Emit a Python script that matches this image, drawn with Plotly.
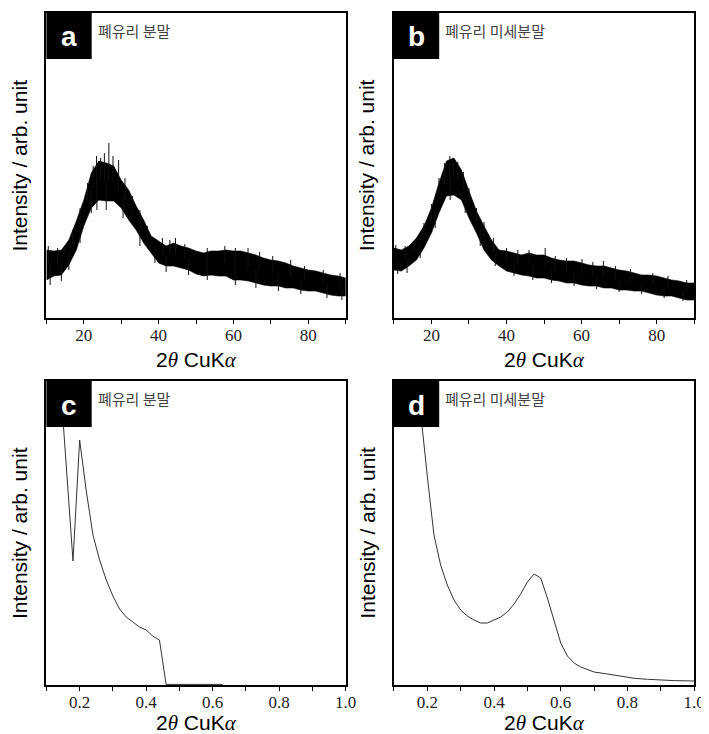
import numpy as np
import plotly.graph_objects as go

# ---------------- data (arbitrary units) ----------------
xrd_deg = [10, 12, 14, 16, 18, 20, 22, 24, 26, 28, 30, 32, 34, 36, 38, 40, 42, 44, 46, 48,
           50, 52, 54, 56, 58, 60, 62, 64, 66, 68, 70, 72, 74, 76, 78, 80, 82, 84, 86, 88, 90]

a_upper = [68, 67, 68, 78, 97, 118, 145, 157, 155, 152, 138, 128, 112, 98, 82, 77, 72, 75, 72, 70,
           67, 65, 67, 67, 68, 67, 67, 65, 63, 60, 58, 57, 55, 52, 50, 48, 47, 45, 43, 42, 40]
a_lower = [38, 42, 43, 53, 68, 92, 110, 118, 117, 117, 110, 98, 88, 75, 65, 55, 52, 52, 50, 48,
           44, 42, 43, 42, 42, 38, 38, 37, 35, 33, 32, 32, 30, 30, 28, 27, 27, 25, 23, 22, 22]
a_up_spike_x = [10.5, 13, 15, 17, 19, 21, 22.5, 23.4, 24.5, 25.5, 26.7, 27.8, 29.3, 31, 33, 35,
                37, 41, 43, 44.5, 47, 53, 57.7, 60.5, 63.9, 67, 70.5, 75.3, 79, 84, 88.5]
a_up_spike_y = [72, 70, 70, 88, 110, 135, 152, 162, 160, 165, 175, 162, 158, 140, 122, 108,
                92, 80, 78, 80, 74, 70, 72, 70, 70, 66, 62, 58, 52, 48, 45]
a_dn_spike_x = [11, 14, 16, 19, 22, 23.5, 26, 30.5, 35, 39, 42, 48, 53, 60.5, 66, 72, 78, 85, 89]
a_dn_spike_y = [33, 37, 48, 75, 105, 108, 108, 100, 72, 55, 46, 43, 38, 33, 30, 27, 24, 20, 18]

b_upper = [70, 68, 72, 80, 92, 110, 135, 157, 160, 148, 127, 107, 92, 78, 68, 67, 65, 63, 65, 63,
           63, 60, 58, 57, 57, 55, 53, 52, 52, 50, 48, 47, 45, 43, 43, 42, 40, 38, 37, 35, 35]
b_lower = [48, 47, 52, 58, 70, 85, 105, 122, 123, 118, 100, 85, 68, 58, 52, 47, 45, 43, 42, 40,
           40, 38, 37, 35, 35, 33, 32, 32, 30, 30, 28, 28, 27, 27, 25, 23, 22, 22, 20, 18, 18]
b_up_spike_x = [10.5, 13, 15.5, 18, 20, 22, 23.5, 24.9, 25.8, 27, 28.5, 30, 32, 34, 36.5, 40,
                43, 46, 50.3, 53, 56, 60.1, 63, 65.8, 69, 73, 79, 83, 88]
b_up_spike_y = [73, 72, 76, 95, 114, 140, 155, 162, 160, 156, 146, 130, 110, 96, 80, 70,
                68, 68, 70, 62, 60, 59, 56, 57, 52, 49, 45, 42, 38]
b_dn_spike_x = [11, 13.5, 17, 21, 25, 29, 33, 37, 42, 47, 52, 58, 64, 70, 76, 82, 87]
b_dn_spike_y = [44, 45, 60, 90, 118, 105, 72, 52, 42, 38, 35, 32, 29, 26, 24, 20, 17]

c_x = [0.14, 0.16, 0.18, 0.20, 0.22, 0.24, 0.26, 0.28, 0.30, 0.32, 0.34, 0.36, 0.38, 0.40,
       0.42, 0.44, 0.46, 0.48, 0.50, 0.52, 0.54, 0.56, 0.58, 0.60, 0.62, 0.63]
c_y = [312, 220, 124, 245, 194, 150, 125, 105, 89, 76, 68, 63, 58, 55,
       49, 45, 0.6, 0.6, 0.6, 0.6, 0.6, 0.6, 0.6, 0.6, 0.6, 0.6]

d_x = [0.16, 0.18, 0.20, 0.22, 0.24, 0.26, 0.28, 0.30, 0.32, 0.34, 0.36, 0.38, 0.40, 0.42,
       0.44, 0.46, 0.48, 0.50, 0.52, 0.54, 0.56, 0.58, 0.60, 0.62, 0.64, 0.66, 0.70, 0.74,
       0.78, 0.82, 0.86, 0.90, 0.94, 1.00]
d_y = [330, 273, 209, 150, 120, 100, 85, 75, 69, 65, 62, 62, 65, 68,
       73, 81, 91, 103, 111, 107, 87, 64, 42, 29, 22, 18, 13, 11,
       8.5, 6.7, 5.7, 4.7, 4.4, 4.0]

panel_letters = ["a", "b", "c", "d"]
panel_names = ["폐유리 분말", "폐유리 미세분말", "폐유리 분말", "폐유리 미세분말"]
y_title = "Intensity / arb. unit"
x_title = ("2<span style='font-family:Liberation Serif'><i>θ</i></span> CuK"
           "<span style='font-family:Liberation Serif'><i>α</i></span>")

# ---------------- layout geometry ----------------
W, H = 709, 734
px = lambda v: v / W
py = lambda v: 1 - v / H
boxes = {  # left, right, top, bottom in pixels
    1: (39, 343, 5, 310),
    2: (392, 697, 5, 310),
    3: (39, 343, 373, 677),
    4: (392, 697, 373, 677),
}

fig = go.Figure()


def band(i, x, up, lo, usx, usy, dsx, dsy):
    xs = "x" if i == 1 else f"x{i}"
    ys = "y" if i == 1 else f"y{i}"
    fig.add_trace(go.Scatter(x=x + x[::-1], y=up + lo[::-1], fill="toself",
                             fillcolor="black", mode="lines",
                             line=dict(color="black", width=0.6),
                             xaxis=xs, yaxis=ys, showlegend=False, hoverinfo="skip"))
    mid = (np.array(up) + np.array(lo)) / 2
    spx, spy = [], []
    for a, h in zip(usx, usy):
        spx += [a, a, None]
        spy += [float(np.interp(a, x, mid)), h, None]
    for a, h in zip(dsx, dsy):
        spx += [a, a, None]
        spy += [float(np.interp(a, x, mid)), h, None]
    fig.add_trace(go.Scatter(x=spx, y=spy, mode="lines",
                             line=dict(color="#111", width=1),
                             xaxis=xs, yaxis=ys, showlegend=False, hoverinfo="skip"))


band(1, xrd_deg, a_upper, a_lower, a_up_spike_x, a_up_spike_y, a_dn_spike_x, a_dn_spike_y)
band(2, xrd_deg, b_upper, b_lower, b_up_spike_x, b_up_spike_y, b_dn_spike_x, b_dn_spike_y)
fig.add_trace(go.Scatter(x=c_x, y=c_y, mode="lines", line=dict(color="#333", width=1),
                         xaxis="x3", yaxis="y3", showlegend=False))
fig.add_trace(go.Scatter(x=d_x, y=d_y, mode="lines", line=dict(color="#333", width=1),
                         xaxis="x4", yaxis="y4", showlegend=False))

tickfont = dict(family="Liberation Serif", size=17, color="#222")
for i, (l, r, t, b) in boxes.items():
    sfx = "" if i == 1 else str(i)
    if i <= 2:
        xr, dt, fmt = [10, 90], 20, "d"
        yr = [0, 305]
    else:
        xr, dt, fmt = [0.1, 1.0], 0.2, ".1f"
        yr = [0, 304]
    fig.layout["xaxis" + sfx] = dict(
        domain=[px(l), px(r)], range=xr, anchor="y" + sfx,
        tick0=0, dtick=dt, tickformat=fmt, ticks="outside", ticklen=4, tickwidth=1,
        tickcolor="black", showline=True, linecolor="black", linewidth=1.5, mirror=True,
        showgrid=False, zeroline=False, tickfont=tickfont, ticklabelstandoff=-3,
        minor=dict(dtick=dt / 2, tick0=0, ticks="outside", ticklen=4, tickwidth=1,
                   tickcolor="black", showgrid=False),
    )
    fig.layout["yaxis" + sfx] = dict(
        domain=[py(b), py(t)], range=yr, anchor="x" + sfx,
        showticklabels=False, ticks="", showline=True, linecolor="black", linewidth=1.5,
        mirror=True, showgrid=False, zeroline=False,
    )

shapes, annots = [], []
for i, (l, r, t, b) in boxes.items():
    shapes.append(dict(type="rect", xref="paper", yref="paper",
                       x0=px(l), x1=px(l + 46), y0=py(t + 46), y1=py(t),
                       fillcolor="black", line=dict(width=0), layer="above"))
    annots.append(dict(text=f"<b>{panel_letters[i-1]}</b>", xref="paper", yref="paper",
                       x=px(l + 23), y=py(t + 24), xanchor="center", yanchor="middle",
                       showarrow=False,
                       font=dict(family="Liberation Sans", size=28, color="white")))
    annots.append(dict(text=panel_names[i-1], xref="paper", yref="paper",
                       x=px(l + 50), y=py(t + 17), xanchor="left", yanchor="middle",
                       showarrow=False,
                       font=dict(family="Noto Sans CJK KR", size=15, color="#444")))
    annots.append(dict(text=y_title, xref="paper", yref="paper", textangle=-90,
                       x=px(l - 14), y=py((t + b) / 2), xanchor="right", yanchor="middle",
                       showarrow=False,
                       font=dict(family="Liberation Sans", size=21, color="black")))
    annots.append(dict(text=x_title, xref="paper", yref="paper",
                       x=px((l + r) / 2), y=py(b + (42 if i <= 2 else 38)),
                       xanchor="center", yanchor="middle", showarrow=False,
                       font=dict(family="Liberation Sans", size=21, color="black")))

fig.update_layout(width=W, height=H, margin=dict(l=0, r=0, t=0, b=0),
                  paper_bgcolor="white", plot_bgcolor="white",
                  shapes=shapes, annotations=annots, showlegend=False)

fig.write_html("out.html")
